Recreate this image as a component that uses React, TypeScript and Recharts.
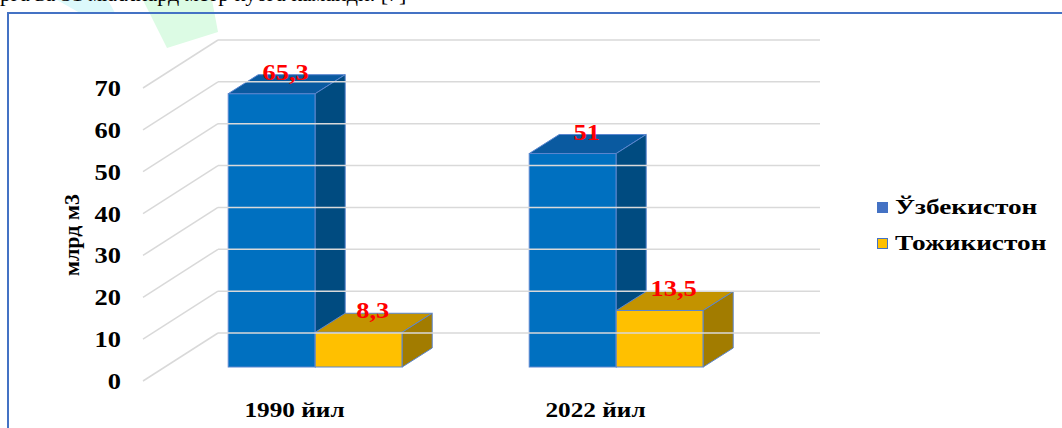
import { BarChart, Bar, XAxis, YAxis, Legend, LabelList } from "recharts";

const years = ["1990 йил", "2022 йил"];
const uzbekistan = [65.3, 51];
const tajikistan = [8.3, 13.5];
const yTicks = [0, 10, 20, 30, 40, 50, 60, 70];
const seriesNames = ["Ўзбекистон", "Тожикистон"];

const data = years.map((year, i) => ({
  year,
  uz: uzbekistan[i],
  tj: tajikistan[i],
}));

const FONT = "'Liberation Serif', 'Times New Roman', serif";
// depth of each box and of the floor relative to the bar plane
const DX = 30;
const DY = 19;
const FRONT_X = 143;
const FRONT_DY = 14;
const BACK_X = 218;
const BACK_DY = -34;
const WALL_RIGHT = 820;
const GRID = "#d9d9d9";
const EDGE = "#5b86cf";
const SX = 1.15; // the source picture is a bit stretched sideways

const blue = { front: "#0070c0", top: "#0a5aa0", side: "#004b80" };
const gold = { front: "#ffc000", top: "#c39300", side: "#a27c00" };

// bold serif text, stretched around its anchor point
const SText = ({ x, y, sx = SX, children, ...rest }: any) => (
  <text
    transform={`translate(${x} ${y}) scale(${sx} 1)`}
    fontFamily={FONT}
    fontWeight="bold"
    {...rest}
  >
    {children}
  </text>
);

const box = (c: typeof blue) => (props: any) => {
  const { x, y, width: w, height: h } = props;
  if (w == null || h == null) return null;
  return (
    <g>
      <rect x={x} y={y} width={w} height={h} fill={c.front} stroke={EDGE} strokeWidth={1} />
      <polygon
        points={`${x},${y} ${x + DX},${y - DY} ${x + w + DX},${y - DY} ${x + w},${y}`}
        fill={c.top}
        stroke={EDGE}
        strokeWidth={1}
      />
      <polygon
        points={`${x + w},${y} ${x + w + DX},${y - DY} ${x + w + DX},${y + h - DY} ${x + w},${y + h}`}
        fill={c.side}
        stroke={EDGE}
        strokeWidth={1}
      />
    </g>
  );
};

const YTick = (props: any) => {
  const { y, payload } = props;
  return (
    <g>
      <line x1={FRONT_X} y1={y + FRONT_DY} x2={BACK_X} y2={y + BACK_DY} stroke={GRID} strokeWidth={1.5} />
      <line x1={BACK_X} y1={y + BACK_DY} x2={WALL_RIGHT} y2={y + BACK_DY} stroke={GRID} strokeWidth={1.5} />
      <SText x={121} y={y + FRONT_DY + 8} textAnchor="end" fontSize={23} fill="#000">
        {payload.value}
      </SText>
    </g>
  );
};

const XTick = (props: any) => {
  const { x, payload } = props;
  return (
    <SText x={x - 21} y={417} textAnchor="middle" fontSize={22} fill="#000">
      {payload.value}
    </SText>
  );
};

const ValueLabel = (props: any) => {
  const { x, y, width, value } = props;
  return (
    <SText x={x + width / 2 + 14} y={y - DY + 5} textAnchor="middle" fontSize={23} fill="#ff0000">
      {String(value).replace(".", ",")}
    </SText>
  );
};

const legendColors = [blue.front, gold.front];

const LegendBox = () => (
  <div style={{ fontFamily: FONT, fontWeight: "bold", fontSize: 22, color: "#000" }}>
    {seriesNames.map((name, i) => (
      <div key={name} style={{ display: "flex", alignItems: "center", height: 36 }}>
        <span
          style={{
            display: "inline-block",
            width: 9,
            height: 9,
            background: i === 0 ? "#4472c4" : legendColors[i],
            border: "1px solid #4472c4",
            marginRight: 7,
          }}
        />
        <span style={{ display: "inline-block", transform: "scaleX(1.24)", transformOrigin: "left center" }}>
          {name}
        </span>
      </div>
    ))}
  </div>
);

export default function App() {
  return (
    <div
      style={{
        position: "absolute",
        left: 0,
        top: 0,
        width: 1062,
        height: 428,
        overflow: "hidden",
        background: "#fff",
      }}
    >
      <svg width={230} height={50} style={{ position: "absolute", left: 0, top: 0 }}>
        <polygon points="57,0 108,0 115,13 80,13" fill="#dcf9fb" />
        <polygon points="143,0 212,0 218,32 167,48" fill="#dcfbe4" />
      </svg>
      <div
        style={{
          position: "absolute",
          left: 0,
          top: -19,
          fontFamily: FONT,
          fontSize: 22,
          whiteSpace: "nowrap",
          color: "#000",
        }}
      >
        рга ва 51 миллиард метр кубга камайди. [7]
      </div>
      <div
        style={{
          position: "absolute",
          left: 7,
          top: 12,
          width: 1200,
          height: 600,
          border: "2px solid #4472c4",
        }}
      />
      <div style={{ position: "absolute", left: 0, top: 0 }}>
        <BarChart
          width={1062}
          height={428}
          data={data}
          margin={{ top: 74, right: 295, bottom: 60, left: 164 }}
          barCategoryGap="21%"
          barGap={0}
        >
          <YAxis
            width={1}
            domain={[0, 70]}
            ticks={yTicks}
            interval={0}
            axisLine={false}
            tickLine={false}
            tick={<YTick />}
            label={{
              content: () => (
                <text
                  x={79}
                  y={235}
                  transform="rotate(-90 79 235)"
                  textAnchor="middle"
                  fontFamily={FONT}
                  fontWeight="bold"
                  fontSize={22}
                  fill="#000"
                >
                  млрд м3
                </text>
              ),
            }}
          />
          <XAxis dataKey="year" height={1} interval={0} axisLine={false} tickLine={false} tick={<XTick />} />
          <Legend
            layout="vertical"
            align="center"
            verticalAlign="middle"
            wrapperStyle={{ left: 877, top: 189, width: 180 }}
            content={<LegendBox />}
          />
          <Bar dataKey="uz" name={seriesNames[0]} fill={blue.front} shape={box(blue)} isAnimationActive={false}>
            <LabelList dataKey="uz" content={<ValueLabel />} />
          </Bar>
          <Bar dataKey="tj" name={seriesNames[1]} fill={gold.front} shape={box(gold)} isAnimationActive={false}>
            <LabelList dataKey="tj" content={<ValueLabel />} />
          </Bar>
        </BarChart>
      </div>
    </div>
  );
}
